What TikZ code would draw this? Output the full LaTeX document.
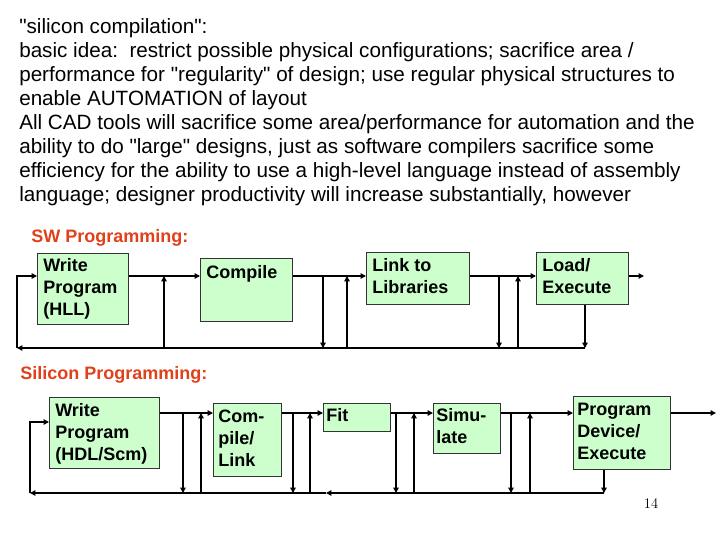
\documentclass[tikz,border=0pt]{standalone}
\usepackage{fontspec}
\setmainfont{Liberation Sans}[Ligatures=TeXOff]
\usetikzlibrary{arrows.meta}
\definecolor{boxg}{HTML}{CCFFCC}
\definecolor{ttl}{HTML}{E0401A}
\begin{document}
\begin{tikzpicture}[x=0.75pt,y=-0.75pt,
  box/.style={draw=black!80,fill=boxg,line width=0.6pt,anchor=north west,inner sep=0pt},
  lbl/.style={anchor=north west,align=left,font=\fontsize{13.5}{16.5}\selectfont\bfseries,inner sep=0pt},
  ar/.style={line width=1.4pt,-{Triangle[length=4pt,width=4pt]}},
  ttlst/.style={anchor=west,text=ttl,font=\fontsize{13.5}{14}\selectfont\bfseries,inner sep=0pt}]
\useasboundingbox (0,0) rectangle (720,540);
\node[anchor=north west,align=left,inner sep=0pt,font=\fontsize{15.5}{18}\selectfont] (para) at (19,18) {%
"silicon compilation":\\
basic idea:\ \ restrict possible physical configurations; sacrifice area /\\
performance for "regularity" of design; use regular physical structures to\\
enable AUTOMATION of layout\\
All CAD tools will sacrifice some area/performance for automation and the\\
ability to do "large" designs, just as software compilers sacrifice some\\
efficiency for the ability to use a high-level language instead of assembly\\
language; designer productivity will increase substantially, however};
% SW
\node[ttlst] (t1) at (31,238) {SW Programming:};
\node[box,minimum width={91*0.75pt},minimum height={71*0.75pt}] (w1) at (37,253) {};
\node[lbl] (w1t) at (43,258) {Write\\Program\\(HLL)};
\node[box,minimum width={92*0.75pt},minimum height={63*0.75pt}] (c1) at (200,258) {};
\node[lbl] (c1t) at (206,265) {Compile};
\node[box,minimum width={103*0.75pt},minimum height={52*0.75pt}] (l1) at (366,252) {};
\node[lbl] (l1t) at (372,258) {Link to\\Libraries};
\node[box,minimum width={92*0.75pt},minimum height={52*0.75pt}] (e1) at (536,252) {};
\node[lbl] (e1t) at (542,258) {Load/\\Execute};
\coordinate (s1) at (17,276); \coordinate (s0) at (17,348);
\coordinate (o1) at (644,276);
\coordinate (a1) at (164,276); \coordinate (a1b) at (164,348);
\coordinate (b1) at (323,276); \coordinate (b1b) at (323,348);
\coordinate (c1u) at (347,276); \coordinate (c1b) at (347,348);
\coordinate (d1) at (499,276); \coordinate (d1b) at (499,348);
\coordinate (f1u) at (518,276); \coordinate (f1b) at (518,348);
\coordinate (g1b) at (585,348);
\draw[ar] (s0) -- (s1) -- (w1.west|-s1);
\draw[ar] (w1.east|-s1) -- (c1.west|-s1);
\draw[ar] (c1.east|-s1) -- (l1.west|-s1);
\draw[ar] (l1.east|-s1) -- (e1.west|-s1);
\draw[ar] (e1.east|-s1) -- (o1);
\draw[ar] (g1b) -- (s0);
\draw[ar] (a1b) -- (a1);
\draw[ar] (b1) -- (b1b);
\draw[ar] (c1b) -- (c1u);
\draw[ar] (d1) -- (d1b);
\draw[ar] (f1b) -- (f1u);
\draw[ar] (g1b|-e1.south) -- (g1b);
% Silicon
\node[ttlst] (t2) at (20,375) {Silicon Programming:};
\node[box,minimum width={110*0.75pt},minimum height={71*0.75pt}] (w2) at (49,397) {};
\node[lbl] (w2t) at (55,403) {Write\\Program\\(HDL/Scm)};
\node[box,minimum width={68*0.75pt},minimum height={73*0.75pt}] (c2) at (213,403) {};
\node[lbl] (c2t) at (218,410) {Com-\\pile/\\Link};
\node[box,minimum width={67*0.75pt},minimum height={28*0.75pt}] (f2) at (323,403) {};
\node[lbl] (f2t) at (326,408) {Fit};
\node[box,minimum width={67*0.75pt},minimum height={50*0.75pt}] (m2) at (433,403) {};
\node[lbl] (m2t) at (436,408) {Simu-\\late};
\node[box,minimum width={97*0.75pt},minimum height={73*0.75pt}] (p2) at (573,396) {};
\node[lbl] (p2t) at (577,403) {Program\\Device/\\Execute};
\coordinate (s2) at (30,422); \coordinate (s20) at (30,493);
\coordinate (o2) at (716,413);
\coordinate (a2) at (183,413); \coordinate (a2b) at (183,493);
\coordinate (b2u) at (201,413); \coordinate (b2b) at (201,493);
\coordinate (c2d) at (293,413); \coordinate (c2b) at (293,493);
\coordinate (d2u) at (310,413); \coordinate (d2b) at (310,493);
\coordinate (e2d) at (396,413); \coordinate (e2b) at (396,493);
\coordinate (f2u) at (414,413); \coordinate (f2b) at (414,493);
\coordinate (g2d) at (511,413); \coordinate (g2b) at (511,493);
\coordinate (h2u) at (530,413); \coordinate (h2b) at (530,493);
\coordinate (p2b) at (604,493); \coordinate (mid2) at (326,493);
\draw[ar] (s20) -- (s2) -- (w2.west|-s2);
\draw[ar] (w2.east|-a2) -- (c2.west|-a2);
\draw[ar] (c2.east|-a2) -- (f2.west|-a2);
\draw[ar] (f2.east|-a2) -- (m2.west|-a2);
\draw[ar] (m2.east|-a2) -- (p2.west|-a2);
\draw[ar] (p2.east|-a2) -- (o2);
\draw[ar] (p2b) -- (mid2);
\draw[ar] (mid2) -- (s20);
\draw[ar] (a2) -- (a2b);
\draw[ar] (b2b) -- (b2u);
\draw[ar] (c2d) -- (c2b);
\draw[ar] (d2b) -- (d2u);
\draw[ar] (e2d) -- (e2b);
\draw[ar] (f2b) -- (f2u);
\draw[ar] (g2d) -- (g2b);
\draw[ar] (h2b) -- (h2u);
\draw[ar] (p2b|-p2.south) -- (p2b);
\node[font=\fontfamily{lmr}\selectfont\fontsize{11}{13}\selectfont] (pg) at (651,504) {14};
\end{tikzpicture}
\end{document}
